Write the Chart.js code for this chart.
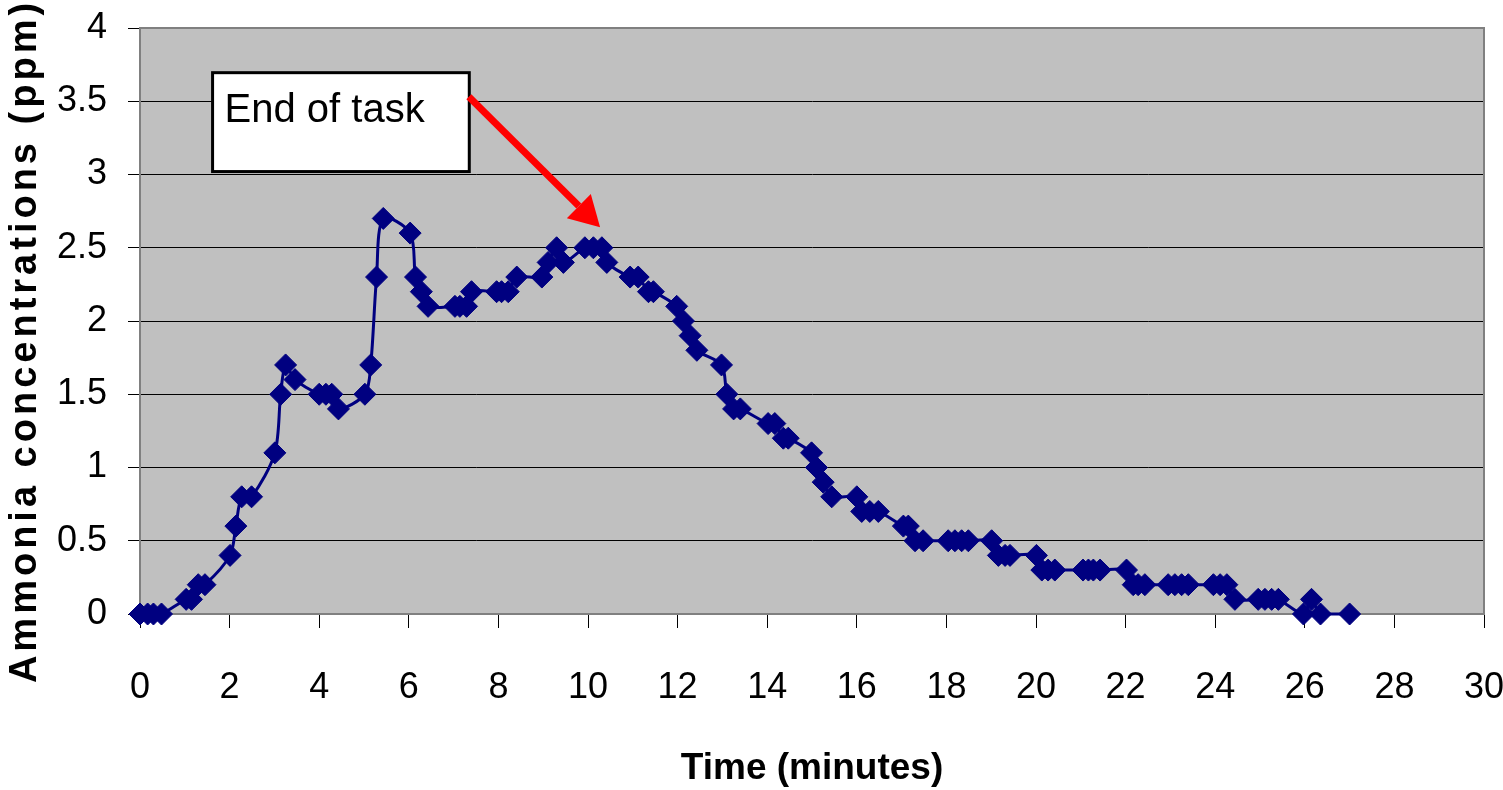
<!DOCTYPE html>
<html>
<head>
<meta charset="utf-8">
<script src="https://cdn.jsdelivr.net/npm/chart.js@4.4.1/dist/chart.umd.min.js"></script>
<style>
  html, body { margin: 0; padding: 0; background: #fff; }
</style>
</head>
<body>
<canvas id="myChart" width="1503" height="790"></canvas>
<script>
// datos
const tiempo = [
  0, 0.17, 0.3, 0.48,
  1.03, 1.15, 1.3, 1.45,
  2.01, 2.14, 2.27, 2.49,
  3.01, 3.14, 3.25, 3.46,
  4.0, 4.15, 4.28, 4.43,
  5.02, 5.15, 5.28, 5.43,
  6.03, 6.15, 6.28, 6.43,
  7.03, 7.14, 7.29, 7.4,
  7.96, 8.07, 8.22, 8.41,
  8.97, 9.11, 9.3, 9.45,
  9.93, 10.12, 10.31, 10.42,
  10.94, 11.12, 11.35, 11.46,
  11.98, 12.13, 12.28, 12.43,
  12.98, 13.1, 13.25, 13.4,
  14.02, 14.17, 14.36, 14.47,
  14.99, 15.1, 15.25, 15.44,
  16.0, 16.11, 16.29, 16.48,
  17.04, 17.15, 17.3, 17.48,
  18.04, 18.19, 18.34, 18.49,
  19.01, 19.16, 19.31, 19.42,
  20.01, 20.13, 20.27, 20.42,
  21.05, 21.17, 21.28, 21.43,
  22.02, 22.17, 22.28, 22.43,
  22.95, 23.1, 23.25, 23.4,
  23.96, 24.11, 24.26, 24.44,
  24.96, 25.11, 25.26, 25.41,
  25.97, 26.15, 26.35,
  27.0
];
const amoniaco = [
  0, 0, 0, 0,
  0.1, 0.1, 0.2, 0.2,
  0.4, 0.6, 0.8, 0.8,
  1.1, 1.5, 1.7, 1.6,
  1.5, 1.5, 1.5, 1.4,
  1.5, 1.7, 2.3, 2.7,
  2.6, 2.3, 2.2, 2.1,
  2.1, 2.1, 2.1, 2.2,
  2.2, 2.2, 2.2, 2.3,
  2.3, 2.4, 2.5, 2.4,
  2.5, 2.5, 2.5, 2.4,
  2.3, 2.3, 2.2, 2.2,
  2.1, 2.0, 1.9, 1.8,
  1.7, 1.5, 1.4, 1.4,
  1.3, 1.3, 1.2, 1.2,
  1.1, 1.0, 0.9, 0.8,
  0.8, 0.7, 0.7, 0.7,
  0.6, 0.6, 0.5, 0.5,
  0.5, 0.5, 0.5, 0.5,
  0.5, 0.4, 0.4, 0.4,
  0.4, 0.3, 0.3, 0.3,
  0.3, 0.3, 0.3, 0.3,
  0.3, 0.2, 0.2, 0.2,
  0.2, 0.2, 0.2, 0.2,
  0.2, 0.2, 0.2, 0.1,
  0.1, 0.1, 0.1, 0.1,
  0, 0.1, 0,
  0
];
const tituloX = 'Time (minutes)';
const tituloY = 'Ammonia concentrations (ppm)';
const textoNota = 'End of task';
// caja de la nota y flecha (en unidades de los ejes)
const notaCaja = { x1: 1.62, x2: 7.35, yTop: 3.695, yBot: 3.02 };
const flecha = { x1: 7.34, y1: 3.53, x2: 10.27, y2: 2.64 };

const fuente = '"Liberation Sans", Arial, sans-serif';

const puntos = tiempo.map((t, i) => ({ x: t, y: amoniaco[i] }));

// fondo gris del area y borde
const fondoPlugin = {
  id: 'fondo',
  beforeDraw(chart) {
    const { ctx, chartArea: a } = chart;
    ctx.save();
    ctx.fillStyle = '#fff';
    ctx.fillRect(0, 0, chart.width, chart.height);
    ctx.fillStyle = '#C0C0C0';
    ctx.fillRect(a.left, a.top, a.right - a.left, a.bottom - a.top);
    ctx.restore();
  },
  beforeDatasetsDraw(chart) {
    const { ctx, chartArea: a } = chart;
    ctx.save();
    ctx.strokeStyle = '#808080';
    ctx.lineWidth = 2;
    ctx.strokeRect(a.left, a.top, a.right - a.left, a.bottom - a.top);
    ctx.restore();
  }
};

// nota "End of task", flecha roja y titulo del eje Y con espaciado
const notaPlugin = {
  id: 'nota',
  afterDatasetsDraw(chart) {
    const { ctx, scales: { x, y } } = chart;
    ctx.save();
    const bx1 = x.getPixelForValue(notaCaja.x1), bx2 = x.getPixelForValue(notaCaja.x2);
    const by1 = y.getPixelForValue(notaCaja.yTop), by2 = y.getPixelForValue(notaCaja.yBot);
    ctx.fillStyle = '#fff';
    ctx.fillRect(bx1, by1, bx2 - bx1, by2 - by1);
    ctx.strokeStyle = '#000';
    ctx.lineWidth = 3;
    ctx.strokeRect(bx1, by1, bx2 - bx1, by2 - by1);
    ctx.fillStyle = '#000';
    ctx.font = '40px ' + fuente;
    ctx.textAlign = 'left';
    ctx.textBaseline = 'alphabetic';
    ctx.fillText(textoNota, bx1 + 12, by1 + 49);

    // flecha
    const fx1 = x.getPixelForValue(flecha.x1), fy1 = y.getPixelForValue(flecha.y1);
    const fx2 = x.getPixelForValue(flecha.x2), fy2 = y.getPixelForValue(flecha.y2);
    const ang = Math.atan2(fy2 - fy1, fx2 - fx1);
    const largoPunta = 30, anchoPunta = 17;
    const bxp = fx2 - Math.cos(ang) * largoPunta, byp = fy2 - Math.sin(ang) * largoPunta;
    ctx.strokeStyle = '#FF0000';
    ctx.lineWidth = 7;
    ctx.beginPath();
    ctx.moveTo(fx1, fy1);
    ctx.lineTo(bxp, byp);
    ctx.stroke();
    ctx.fillStyle = '#FF0000';
    ctx.beginPath();
    ctx.moveTo(fx2, fy2);
    ctx.lineTo(bxp + Math.sin(ang) * anchoPunta, byp - Math.cos(ang) * anchoPunta);
    ctx.lineTo(bxp - Math.sin(ang) * anchoPunta, byp + Math.cos(ang) * anchoPunta);
    ctx.closePath();
    ctx.fill();
    ctx.restore();
  },
  afterDraw(chart) {
    const { ctx, chartArea: a } = chart;
    ctx.save();
    ctx.translate(a.left - 114, (a.top + a.bottom) / 2 + 20);
    ctx.rotate(-Math.PI / 2);
    ctx.letterSpacing = '4px';
    ctx.font = 'bold 38px ' + fuente;
    ctx.fillStyle = '#000';
    ctx.textAlign = 'center';
    ctx.textBaseline = 'middle';
    ctx.fillText(tituloY, 0, 0);
    ctx.restore();
  }
};

const ctx = document.getElementById('myChart');
const chart1 = new Chart(ctx, {
  type: 'line',
  data: {
    datasets: [{
      label: 'Ammonia',
      data: puntos,
      borderColor: '#000080',
      backgroundColor: '#000080',
      borderWidth: 3,
      tension: 0.3,
      pointStyle: 'rectRot',
      pointRadius: 11,
      pointBorderWidth: 1,
      pointBackgroundColor: '#000080',
      pointBorderColor: '#000080',
      clip: false
    }]
  },
  options: {
    responsive: false,
    animation: false,
    layout: { padding: { top: 28, right: 19, left: 0, bottom: 0 } },
    plugins: {
      legend: { display: false },
      tooltip: { enabled: false }
    },
    scales: {
      x: {
        type: 'linear',
        min: 0,
        max: 30,
        afterFit: (s) => { s.height = 176; s.paddingLeft = 0; s.paddingRight = 0; },
        ticks: {
          stepSize: 2,
          color: '#000',
          padding: 38,
          font: { family: fuente, size: 36 }
        },
        grid: { drawOnChartArea: false, drawTicks: true, tickLength: 14, color: '#000' },
        border: { display: true, color: '#808080', width: 2 },
        title: {
          display: true,
          text: tituloX,
          color: '#000',
          font: { family: fuente, size: 37, weight: 'bold', lineHeight: 1 },
          padding: { top: 0, bottom: 3 }
        }
      },
      y: {
        min: 0,
        max: 4,
        afterFit: (s) => { s.width = 140; s.paddingTop = 0; s.paddingBottom = 0; },
        ticks: {
          stepSize: 0.5,
          color: '#000',
          padding: 21,
          font: { family: fuente, size: 36 },
          callback: (v) => String(v)
        },
        grid: { color: '#000', lineWidth: 1, tickLength: 12, drawTicks: true },
        border: { display: true, color: '#808080', width: 2 }
      }
    }
  },
  plugins: [fondoPlugin, notaPlugin]
});
</script>
</body>
</html>
